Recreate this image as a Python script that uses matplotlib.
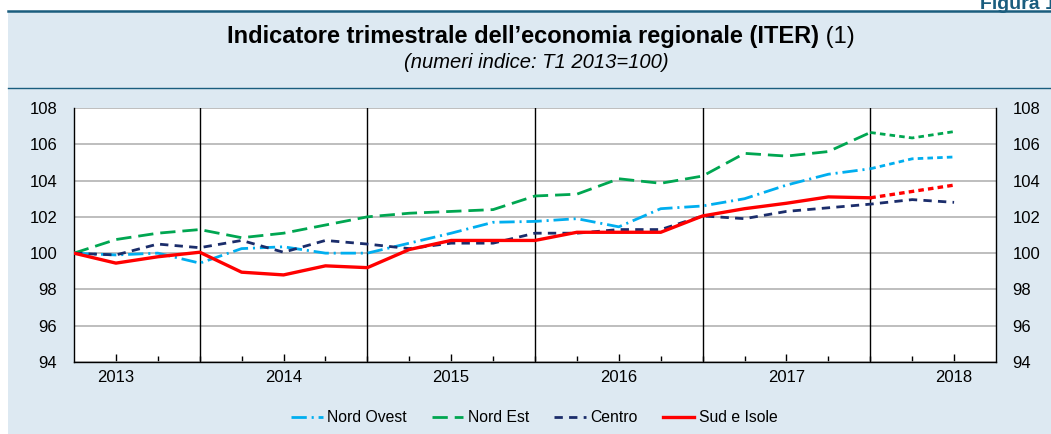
import matplotlib
matplotlib.use("Agg")
import matplotlib.pyplot as plt
from matplotlib.lines import Line2D
from matplotlib.text import Annotation
import numpy as np

plt.rcParams['font.family'] = ['Liberation Sans', 'DejaVu Sans']
plt.rcParams['lines.scale_dashes'] = False

years = ['2013', '2014', '2015', '2016', '2017', '2018']
n_quarters = 22  # T1 2013 .. T2 2018

nord_ovest = [100, 99.9, 100.0, 99.45, 100.25, 100.35, 100.0, 100.0, 100.55, 101.1, 101.7,
              101.75, 101.9, 101.45, 102.45, 102.6, 103.0, 103.75, 104.35, 104.65, 105.2, 105.3]
nord_est = [100, 100.75, 101.1, 101.3, 100.85, 101.1, 101.55, 102.0, 102.2, 102.3, 102.4,
            103.15, 103.25, 104.1, 103.85, 104.25, 105.5, 105.35, 105.6, 106.65, 106.35, 106.7]
centro = [100, 99.9, 100.5, 100.3, 100.7, 100.05, 100.7, 100.5, 100.25, 100.55, 100.55,
          101.1, 101.1, 101.3, 101.3, 102.05, 101.9, 102.3, 102.5, 102.7, 102.95, 102.8]
sud_isole = [100, 99.45, 99.8, 100.05, 98.95, 98.8, 99.3, 99.2, 100.2, 100.7, 100.7,
             100.7, 101.15, 101.15, 101.15, 102.05, 102.45, 102.75, 103.1, 103.05, 103.4, 103.75]
proj_start = 19  # last two quarters are estimates

labels = ['Nord Ovest', 'Nord Est', 'Centro', 'Sud e Isole']
colors = ['#00aeef', '#00a651', '#1b2d6b', '#ff0000']

BG = '#dde9f2'
W, H = 1051, 434
fig = plt.figure(figsize=(W / 100, H / 100), dpi=100)
fig.patch.set_facecolor('white')

# background panel
fig.add_artist(plt.Rectangle((8 / W, 0), 1 - 8 / W, (H - 11) / H, transform=fig.transFigure,
                             facecolor=BG, edgecolor='none', zorder=-5))
fig.add_artist(Line2D([8 / W, 1], [(H - 11) / H] * 2, color='#1a5d7e', lw=1.8, zorder=-4))
fig.add_artist(Line2D([8 / W, 1], [(H - 87.5) / H] * 2, color='#1a5d7e', lw=1.0, zorder=-4))

fig.text(1.005, (H - 9) / H, 'Figura 1', ha='right', va='baseline', fontsize=14,
         fontweight='bold', color='#1a5d7e')

t = fig.text(523 / W, (H - 43.5) / H, "Indicatore trimestrale dell\u2019economia regionale (ITER)",
             ha='center', va='baseline', fontsize=17, fontweight='bold')
ann = Annotation(' (1)', xy=(1, 0), xycoords=t, xytext=(0, 0), textcoords='offset points',
                 ha='left', va='bottom', fontsize=17, annotation_clip=False)
fig.add_artist(ann)
fig.text(536 / W, (H - 68) / H, '(numeri indice: T1 2013=100)', ha='center', va='baseline',
         fontsize=14.5, style='italic')

ax = fig.add_axes([74 / W, (H - 362) / H, (996 - 74) / W, (362 - 108) / H])
ax.set_facecolor('white')
x = np.arange(n_quarters)

styles = [(0, (11, 3.5, 1.5, 3.5)), (0, (11, 5)), (0, (6, 4.5)), 'solid']
widths = [2.0, 2.0, 2.0, 2.4]
series = [nord_ovest, nord_est, centro, sud_isole]
proj_style = (0, (4, 3))
for s, c, ls, lw, lab in zip(series, colors, styles, widths, labels):
    s = np.array(s)
    if lab == 'Centro':
        ax.plot(x, s, color=c, ls=ls, lw=lw, zorder=3)
    else:
        ax.plot(x[:proj_start + 1], s[:proj_start + 1], color=c, ls=ls, lw=lw, zorder=3)
        ax.plot(x[proj_start:], s[proj_start:], color=c, ls=proj_style, lw=lw, zorder=3)

for v in [3, 7, 11, 15, 19]:
    ax.axvline(v, color='black', lw=1.0, zorder=2)

ax.set_xlim(0, 22)
ax.set_ylim(94, 108)
ax.set_yticks(np.arange(94, 109, 2))
ax.yaxis.grid(True, color='#b3b3b3', lw=1.2, zorder=1)
ax.tick_params(axis='y', length=0, labelsize=12, pad=12, labelright=True)
ax.set_xticks([1, 5, 9, 13, 17, 21])
ax.set_xticklabels(years)
ax.set_xticks(np.arange(1, 22), minor=True)
ax.tick_params(axis='x', which='major', direction='in', length=6, width=1, labelsize=12, pad=6)
ax.tick_params(axis='x', which='minor', direction='in', length=4.5, width=1)
for sp in ['left', 'right', 'bottom']:
    ax.spines[sp].set_color('black')
    ax.spines[sp].set_linewidth(1.0)
ax.spines['top'].set_visible(False)
ax.set_axisbelow(True)

handles = [Line2D([], [], color=c, ls=ls, lw=lw) for c, ls, lw in zip(colors, styles, widths)]
fig.legend(handles, labels, loc='center', bbox_to_anchor=(534.5 / W, 16 / H), ncol=4,
           frameon=False, fontsize=11.3, handlelength=2.0, handletextpad=0.3, columnspacing=1.6)

fig.savefig('out.png', dpi=100, facecolor=fig.get_facecolor())
